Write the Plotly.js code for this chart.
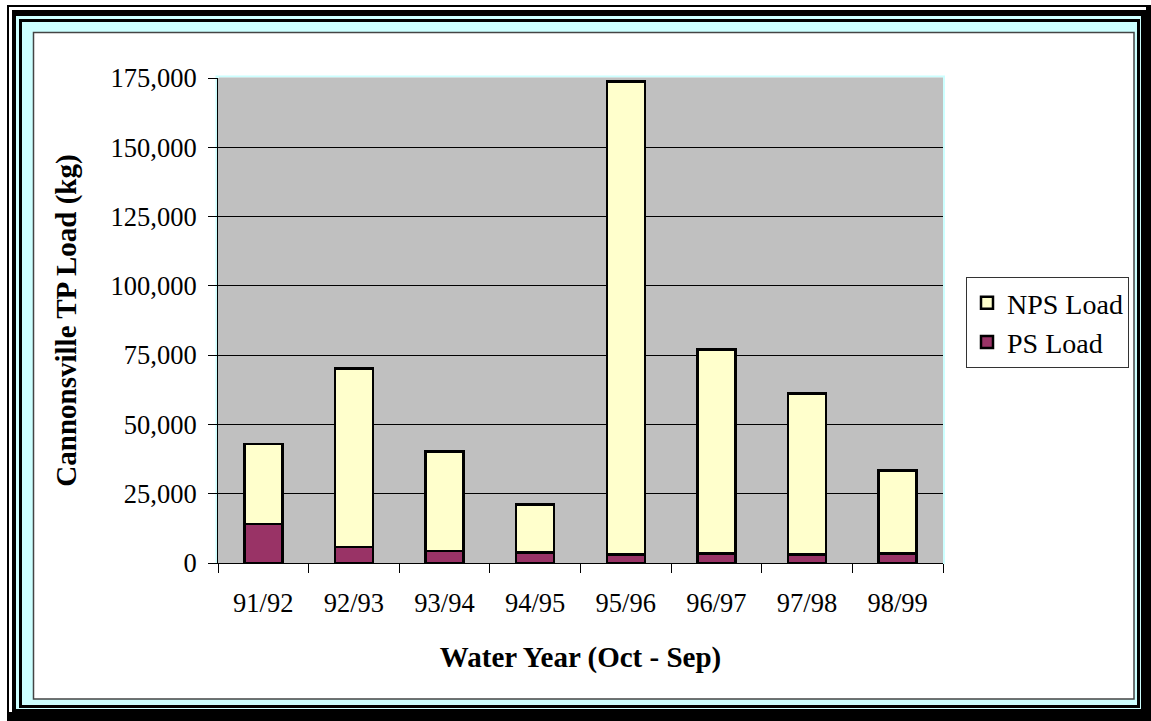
<!DOCTYPE html>
<html><head><meta charset="utf-8">
<script src="https://cdn.plot.ly/plotly-3.0.1.min.js"></script>
<style>html,body{margin:0;padding:0;background:#fff}#chart{width:1151px;height:721px}</style>
</head><body><div id="chart"></div>
<script>
const categories = ['91/92','92/93','93/94','94/95','95/96','96/97','97/98','98/99'];
const psLoad  = [14100, 5700, 4300, 3800, 3100, 3400, 3100, 3400];
const npsLoad = [28800, 64500, 35900, 17300, 170600, 73600, 58100, 30000];
const seriesNames = ['PS Load', 'NPS Load'];
const yTickVals = [0, 25000, 50000, 75000, 100000, 125000, 150000, 175000];

const W = 1151, H = 721;
const M = {l: 218, r: 208, t: 78, b: 158};
const PW = W - M.l - M.r, PH = H - M.t - M.b;
const xp = px => (px - M.l) / PW;
const yp = py => (H - M.b - py) / PH;
function R(x0, y0, x1, y1, fill, line, lw, layer) {
  return {type: 'rect', xref: 'paper', yref: 'paper', layer: layer || 'below',
    x0: xp(x0), x1: xp(x1), y0: yp(y0), y1: yp(y1),
    fillcolor: fill || 'rgba(0,0,0,0)',
    line: {color: line || 'rgba(0,0,0,0)', width: lw || 0}};
}
const CY = '#CCFFFF';
const shapes = [
  R(7, 5, 1151, 721, '#000'),
  R(9, 7, 1146, 712, '#fff'),
  R(12, 10, 1146, 712, '#000'),
  R(16, 16, 1141, 709, CY),
  R(20.5, 20.5, 1138.5, 706.5, null, '#000', 3),
  R(33.5, 32.5, 1134, 699, '#fff', '#444', 1.5),
  R(216.5, 76.5, 944, 563, null, CY, 2),
  R(218, 78, 943, 563, '#C0C0C0'),
  {type: 'line', xref: 'paper', yref: 'paper', layer: 'above',
   x0: xp(219), x1: xp(943), y0: yp(78), y1: yp(78), line: {color: '#C0C0C0', width: 1.2}}
];

const FONT = 'Liberation Serif, Times New Roman, serif';
const FS = 26.5;
const TFS = 29;

const traces = [
  {type: 'bar', name: seriesNames[0], x: categories, y: psLoad, width: 0.42,
   legendgroup: 'ps', legendrank: 2,
   marker: {color: '#993366', line: {color: '#000', width: 2.5}}},
  {type: 'bar', name: seriesNames[1], x: categories, y: npsLoad, width: 0.42,
   legendgroup: 'nps', legendrank: 1,
   marker: {color: '#FFFFCC', line: {color: '#000', width: 2.5}}}
];

const layout = {
  width: W, height: H,
  margin: M,
  paper_bgcolor: '#fff',
  plot_bgcolor: 'rgba(0,0,0,0)',
  barmode: 'stack',
  font: {family: FONT, size: FS, color: '#000'},
  shapes: shapes,
  xaxis: {
    type: 'category', tickson: 'boundaries', ticks: 'outside', ticklen: 9,
    tickcolor: '#000', tickwidth: 1, showline: true, linecolor: '#000', linewidth: 1,
    showgrid: false, zeroline: false, ticklabelstandoff: 16,
    tickfont: {family: FONT, size: FS, color: '#000'},
    title: {text: 'Water Year (Oct - Sep)', standoff: 29,
            font: {family: FONT, size: TFS, color: '#000', weight: 'bold'}}
  },
  yaxis: {
    range: [0, 175000], tickvals: yTickVals, tickformat: ',d',
    ticks: 'outside', ticklen: 9, tickcolor: '#000', tickwidth: 1,
    showline: true, linecolor: '#000', linewidth: 1,
    showgrid: true, gridcolor: '#000', gridwidth: 1, zeroline: false,
    ticklabelstandoff: 6,
    tickfont: {family: FONT, size: FS, color: '#000'},
    title: {text: 'Cannonsville TP Load (kg)', standoff: 25,
            font: {family: FONT, size: TFS, color: '#000', weight: 'bold'}}
  },
  legend: {
    x: xp(966), y: yp(277), xanchor: 'left', yanchor: 'top',
    bgcolor: '#fff', bordercolor: '#333', borderwidth: 1,
    traceorder: 'grouped', tracegroupgap: 0,
    font: {family: FONT, size: 28, color: '#000'}
  },
  showlegend: true
};

Plotly.newPlot('chart', traces, layout, {displayModeBar: false, staticPlot: true});
</script>
</body></html>
